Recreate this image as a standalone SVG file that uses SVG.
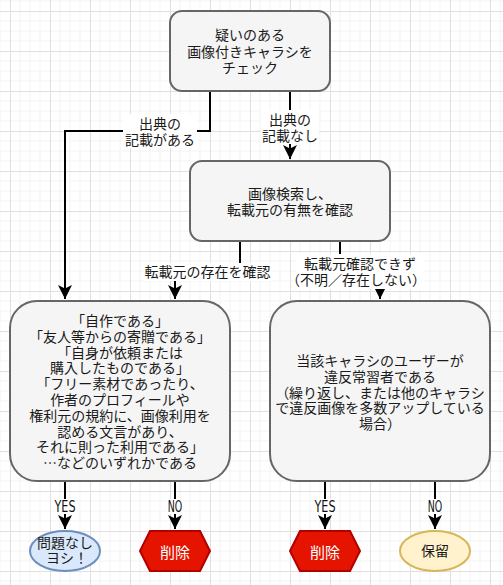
<svg xmlns="http://www.w3.org/2000/svg" width="503" height="585" viewBox="0 0 503 585">
<style>
  .box { fill: #f5f5f5; stroke: #666666; stroke-width: 2; }
  .t { font-family: "Noto Sans CJK JP", "Noto Sans", sans-serif; font-size: 14px; fill: #1a1a1a; text-anchor: middle; }
  .w { fill: #ffffff; font-size: 15px; }
  .edge { fill: none; stroke: #000000; stroke-width: 2; }
  .lbl { font-family: "DejaVu Sans", "Noto Sans", sans-serif; font-size: 15px; fill: #111111; text-anchor: middle; }
  .bg { fill: #ffffff; }
  .del { fill: #e51400; stroke: #b20000; stroke-width: 2; }
</style>
<defs>
  <pattern id="grid" patternUnits="userSpaceOnUse" x="10" y="11" width="40" height="40">
    <path d="M10 0V40M20 0V40M30 0V40M0 10H40M0 20H40M0 30H40" stroke="#f3f3f3" stroke-width="1" fill="none"/>
    <path d="M0.5 0V40M0 0.5H40" stroke="#e0e0e0" stroke-width="1" fill="none"/>
  </pattern>
  <marker id="arr" markerUnits="userSpaceOnUse" markerWidth="14" markerHeight="14" viewBox="0 0 12 12" refX="12" refY="6" orient="auto">
    <path d="M0,0 L12,6 L0,12 L3,6 Z" fill="#000000"/>
  </marker>
</defs>
<rect width="503" height="585" fill="#ffffff"/>
<rect width="503" height="585" fill="url(#grid)"/>

<g id="connectors">
  <path class="edge" d="M210 92V131H65V299" marker-end="url(#arr)"/>
  <rect class="bg" x="123" y="114" width="74" height="34"/>
  <text class="t" x="160" y="128.5">出典の</text>
  <text class="t" x="160" y="144.5">記載がある</text>

  <path class="edge" d="M290 92V159" marker-end="url(#arr)"/>
  <rect class="bg" x="261" y="110" width="58" height="34"/>
  <text class="t" x="290" y="124.5">出典の</text>
  <text class="t" x="290" y="140.5">記載なし</text>

  <path class="edge" d="M240 242V271H175V299" marker-end="url(#arr)"/>
  <rect class="bg" x="144" y="263" width="127" height="18"/>
  <text class="t" x="207.5" y="277">転載元の存在を確認</text>

  <path class="edge" d="M340 242V271H380V299" marker-end="url(#arr)"/>
  <rect class="bg" x="296" y="254" width="128" height="35"/>
  <text class="t" x="360" y="268.5">転載元確認できず</text>
  <text class="t" x="356" y="285">（不明／存在しない）</text>

  <path class="edge" d="M65 482V529" marker-end="url(#arr)"/>
  <rect class="bg" x="54" y="499" width="22" height="15"/>
  <text class="lbl" x="65" y="511.5" textLength="21" lengthAdjust="spacingAndGlyphs">YES</text>

  <path class="edge" d="M175 482V529" marker-end="url(#arr)"/>
  <rect class="bg" x="167" y="499" width="16" height="15"/>
  <text class="lbl" x="175" y="511.5" textLength="14.5" lengthAdjust="spacingAndGlyphs">NO</text>

  <path class="edge" d="M325 482V529" marker-end="url(#arr)"/>
  <rect class="bg" x="314" y="499" width="22" height="15"/>
  <text class="lbl" x="325" y="511.5" textLength="21" lengthAdjust="spacingAndGlyphs">YES</text>

  <path class="edge" d="M435 482V529" marker-end="url(#arr)"/>
  <rect class="bg" x="427" y="499" width="16" height="15"/>
  <text class="lbl" x="435" y="511.5" textLength="14.5" lengthAdjust="spacingAndGlyphs">NO</text>
</g>

<g id="start">
  <rect class="box" x="170" y="11" width="160" height="80" rx="12" ry="12"/>
  <text class="t" x="250" y="40">疑いのある</text>
  <text class="t" x="250" y="56.7">画像付きキャラシを</text>
  <text class="t" x="250" y="73.3">チェック</text>
</g>

<g id="search">
  <rect class="box" x="190" y="161" width="200" height="80" rx="12" ry="12"/>
  <text class="t" x="290" y="199">画像検索し、</text>
  <text class="t" x="290" y="215">転載元の有無を確認</text>
</g>

<g id="found">
  <rect class="box" x="10" y="301" width="220" height="180" rx="27" ry="27"/>
  <text class="t" x="120" y="326">「自作である」</text>
  <text class="t" x="120" y="341.8">「友人等からの寄贈である」</text>
  <text class="t" x="120" y="357.6">「自身が依頼または</text>
  <text class="t" x="120" y="373.4">購入したものである」</text>
  <text class="t" x="120" y="389.2">「フリー素材であったり、</text>
  <text class="t" x="120" y="405">作者のプロフィールや</text>
  <text class="t" x="120" y="420.8">権利元の規約に、画像利用を</text>
  <text class="t" x="120" y="436.6">認める文言があり、</text>
  <text class="t" x="120" y="452.4">それに則った利用である」</text>
  <text class="t" x="120" y="468.2">…などのいずれかである</text>
</g>

<g id="notfound">
  <rect class="box" x="270" y="301" width="220" height="180" rx="27" ry="27"/>
  <text class="t" x="380" y="366">当該キャラシのユーザーが</text>
  <text class="t" x="380" y="381.8">違反常習者である</text>
  <text class="t" x="380" y="397.6">（繰り返し、または他のキャラシ</text>
  <text class="t" x="380" y="413.4">で違反画像を多数アップしている</text>
  <text class="t" x="380" y="429.2">場合）</text>
</g>

<g id="ok">
  <ellipse cx="65" cy="551" rx="35" ry="20" fill="#dae8fc" stroke="#6c8ebf" stroke-width="2"/>
  <text class="t" x="65" y="548.3">問題なし</text>
  <text class="t" x="67" y="563.3">ヨシ！</text>
</g>

<g id="delete1">
  <polygon class="del" points="140,551 150,531 200,531 210,551 200,571 150,571"/>
  <text class="t w" x="175" y="558">削除</text>
</g>

<g id="delete2">
  <polygon class="del" points="290,551 300,531 350,531 360,551 350,571 300,571"/>
  <text class="t w" x="325" y="558">削除</text>
</g>

<g id="hold">
  <ellipse cx="435" cy="551" rx="35" ry="20" fill="#fff2cc" stroke="#d6b656" stroke-width="2"/>
  <text class="t" x="435" y="556">保留</text>
</g>
</svg>
